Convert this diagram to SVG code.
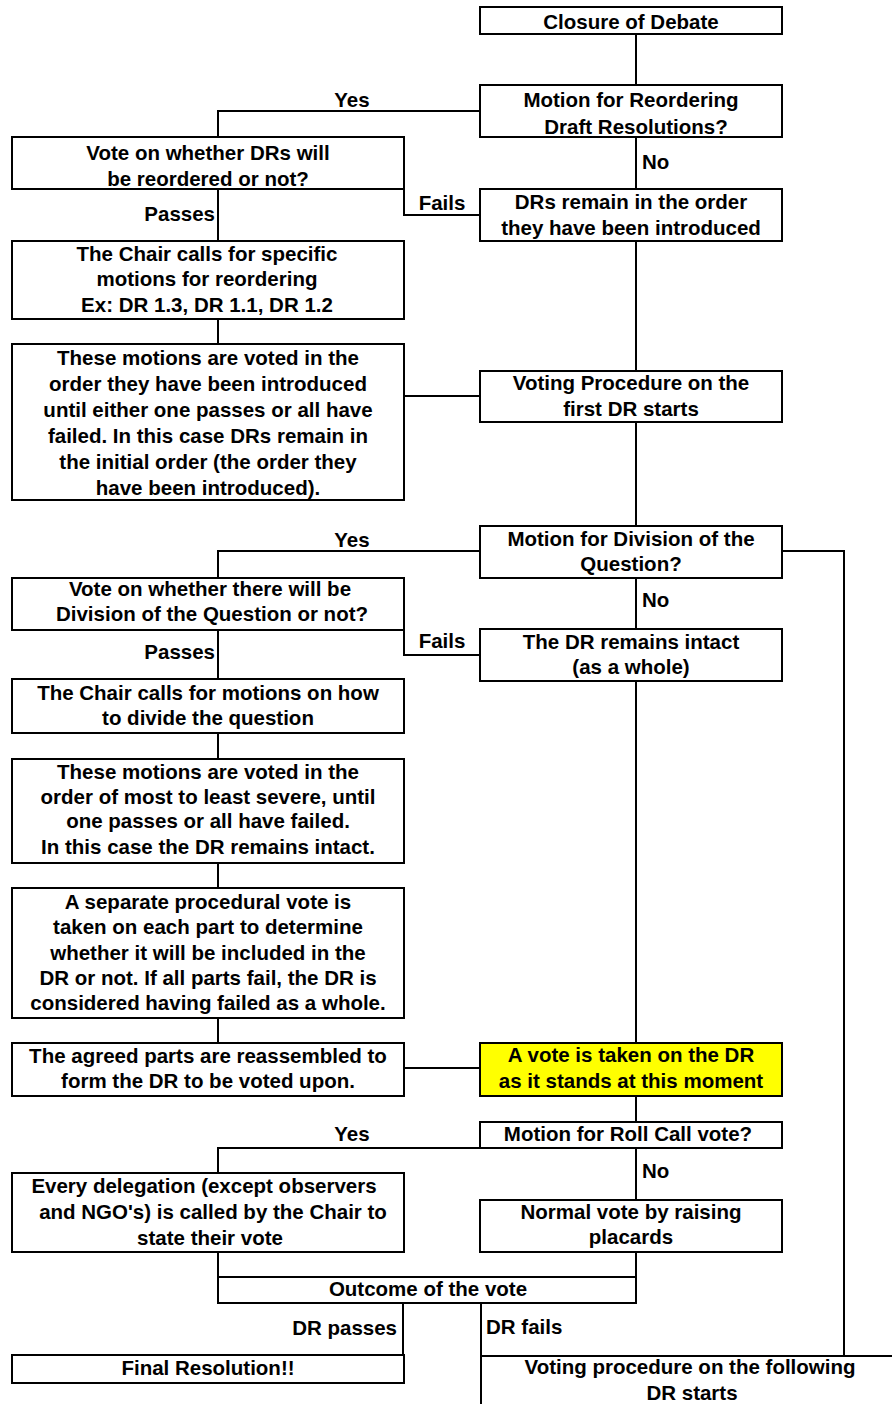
<svg xmlns="http://www.w3.org/2000/svg" width="892" height="1404" viewBox="0 0 892 1404">
<style>
.box{fill:#fff;stroke:#000;stroke-width:2}
.hl{fill:#ffff00;stroke:#000;stroke-width:2}
.c{fill:none;stroke:#000;stroke-width:2}
text{font-family:"Liberation Sans",Arial,sans-serif;font-weight:bold;font-size:20.5px;fill:#000}
.m{text-anchor:middle}
.e{text-anchor:end}
.s{text-anchor:start}
</style>
<rect width="892" height="1404" fill="#fff"/>
<g id="connectors">
<path class="c" d="M636 34V85M480 111H218V137M636 137V189M404 189V215H480M218 189V241M636 241V371M218 319V344M404 396H480M636 422V526"/>
<path class="c" d="M480 551H218V578M782 551H844V1356M636 578V629M404 630V655H480M218 630V679M636 681V1043M218 733V759M218 863V888M218 1018V1043M404 1068H480"/>
<path class="c" d="M636 1096V1122M480 1148H218V1173M636 1148V1200M636 1252V1277M218 1252V1277"/>
<path class="c" d="M403 1303V1355M481 1303V1404M481 1356H892"/>
</g>
<g id="lbl">
<text class="m" x="352" y="107">Yes</text>
<text class="s" x="642" y="169">No</text>
<text class="m" x="442" y="210">Fails</text>
<text class="e" x="215" y="221">Passes</text>
<text class="m" x="352" y="547">Yes</text>
<text class="s" x="642" y="607">No</text>
<text class="m" x="442" y="648">Fails</text>
<text class="e" x="215" y="659">Passes</text>
<text class="m" x="352" y="1141">Yes</text>
<text class="s" x="642" y="1178">No</text>
<text class="e" x="397" y="1335">DR passes</text>
<text class="s" x="486" y="1334">DR fails</text>
</g>
<g id="closure"><rect class="box" x="480" y="7" width="302" height="27"/><text class="m" x="631" y="29">Closure of Debate</text></g>
<g id="motionReorder"><rect class="box" x="480" y="85" width="302" height="52"/><text class="m" x="631" y="107">Motion for Reordering</text><text class="m" x="636" y="134">Draft Resolutions?</text></g>
<g id="drsRemain"><rect class="box" x="480" y="189" width="302" height="52"/><text class="m" x="631" y="209">DRs remain in the order</text><text class="m" x="631" y="235">they have been introduced</text></g>
<g id="voteReorder"><rect class="box" x="12" y="137" width="392" height="52"/><text class="m" x="208" y="160">Vote on whether DRs will</text><text class="m" x="208" y="186">be reordered or not?</text></g>
<g id="chairSpecific"><rect class="box" x="12" y="241" width="392" height="78"/><text class="m" x="207" y="261">The Chair calls for specific</text><text class="m" x="207" y="286">motions for reordering</text><text class="m" x="207" y="312">Ex: DR 1.3, DR 1.1, DR 1.2</text></g>
<g id="motionsVoted1"><rect class="box" x="12" y="344" width="392" height="156"/>
<text class="m" x="208" y="365">These motions are voted in the</text>
<text class="m" x="208" y="391">order they have been introduced</text>
<text class="m" x="208" y="417">until either one passes or all have</text>
<text class="m" x="208" y="443">failed. In this case DRs remain in</text>
<text class="m" x="208" y="469">the initial order (the order they</text>
<text class="m" x="208" y="495">have been introduced).</text></g>
<g id="votingFirst"><rect class="box" x="480" y="371" width="302" height="51"/><text class="m" x="631" y="390">Voting Procedure on the</text><text class="m" x="631" y="416">first DR starts</text></g>
<g id="motionDivision"><rect class="box" x="480" y="526" width="302" height="52"/><text class="m" x="631" y="546">Motion for Division of the</text><text class="m" x="631" y="571">Question?</text></g>
<g id="voteDivision"><rect class="box" x="12" y="578" width="392" height="52"/><text class="m" x="210" y="596">Vote on whether there will be</text><text class="m" x="212" y="621">Division of the Question or not?</text></g>
<g id="drIntact"><rect class="box" x="480" y="629" width="302" height="52"/><text class="m" x="631" y="649">The DR remains intact</text><text class="m" x="631" y="674">(as a whole)</text></g>
<g id="chairHow"><rect class="box" x="12" y="679" width="392" height="54"/><text class="m" x="208" y="700">The Chair calls for motions on how</text><text class="m" x="208" y="725">to divide the question</text></g>
<g id="motionsVoted2"><rect class="box" x="12" y="759" width="392" height="104"/>
<text class="m" x="208" y="779">These motions are voted in the</text>
<text class="m" x="208" y="804">order of most to least severe, until</text>
<text class="m" x="208" y="828">one passes or all have failed.</text>
<text class="m" x="208" y="854">In this case the DR remains intact.</text></g>
<g id="separateVote"><rect class="box" x="12" y="888" width="392" height="130"/>
<text class="m" x="208" y="909">A separate procedural vote is</text>
<text class="m" x="208" y="934">taken on each part to determine</text>
<text class="m" x="208" y="960">whether it will be included in the</text>
<text class="m" x="208" y="985">DR or not. If all parts fail, the DR is</text>
<text class="m" x="208" y="1010">considered having failed as a whole.</text></g>
<g id="agreedParts"><rect class="box" x="12" y="1043" width="392" height="53"/><text class="m" x="208" y="1063">The agreed parts are reassembled to</text><text class="m" x="208" y="1088">form the DR to be voted upon.</text></g>
<g id="voteTaken"><rect class="hl" x="480" y="1043" width="302" height="53"/><text class="m" x="631" y="1062">A vote is taken on the DR</text><text class="m" x="631" y="1088">as it stands at this moment</text></g>
<g id="rollCall"><rect class="box" x="480" y="1122" width="302" height="26"/><text class="m" x="628" y="1141">Motion for Roll Call vote?</text></g>
<g id="everyDelegation"><rect class="box" x="12" y="1173" width="392" height="79"/><text class="m" x="204" y="1193">Every delegation (except observers</text><text class="m" x="213" y="1219">and NGO's) is called by the Chair to</text><text class="m" x="210" y="1245">state their vote</text></g>
<g id="normalVote"><rect class="box" x="480" y="1200" width="302" height="52"/><text class="m" x="631" y="1219">Normal vote by raising</text><text class="m" x="631" y="1244">placards</text></g>
<g id="outcome"><rect class="box" x="218" y="1277" width="418" height="26"/><text class="m" x="428" y="1296">Outcome of the vote</text></g>
<g id="finalResolution"><rect class="box" x="12" y="1355" width="392" height="28"/><text class="m" x="208" y="1375">Final Resolution!!</text></g>
<g id="nextDR"><text class="m" x="690" y="1374">Voting procedure on the following</text><text class="m" x="692" y="1400">DR starts</text></g>
</svg>
